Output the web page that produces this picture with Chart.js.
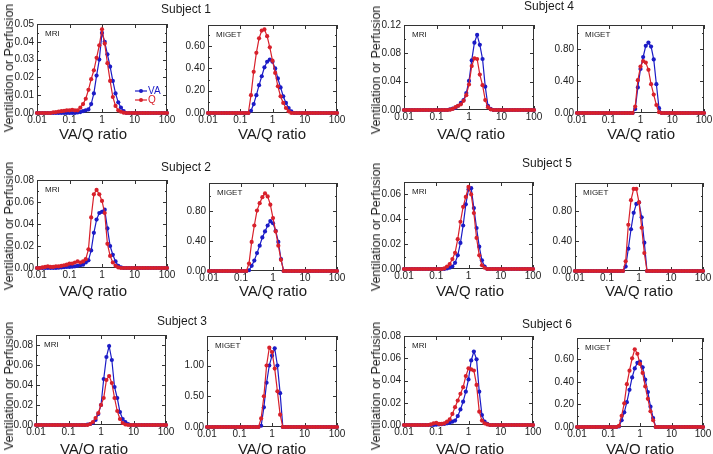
<!DOCTYPE html>
<html>
<head>
<meta charset="utf-8">
<script src="https://cdn.jsdelivr.net/npm/chart.js@4.4.1/dist/chart.umd.min.js"></script>
<style>
  body { margin: 0; background: #fff; width: 713px; height: 454px; position: relative; overflow: hidden;
         font-family: Arial, "Liberation Sans", sans-serif; }
  canvas { position: absolute; }
  .lbl { position: absolute; color: #1a1a1a; white-space: nowrap; transform: translate(-50%, -50%); }
  .subj { font-size: 12px; }
  .xt { font-size: 15px; }
  .yt { font-size: 12.5px; transform: translate(-50%, -50%) rotate(-90deg); }
</style>
</head>
<body>
<script>
// VA/Q compartments (log spaced, 12 per decade)
const vaq = [0.01, 0.01212, 0.01468, 0.01778, 0.02154, 0.0261, 0.03162, 0.03831, 0.04642, 0.05623, 0.06813, 0.08254,
  0.1, 0.1212, 0.1468, 0.1778, 0.2154, 0.261, 0.3162, 0.3831, 0.4642, 0.5623, 0.6813, 0.8254,
  1, 1.212, 1.468, 1.778, 2.154, 2.61, 3.162, 3.831, 4.642, 5.623, 6.813, 8.254,
  10, 12.12, 14.68, 17.78, 21.54, 26.1, 31.62, 38.31, 46.42, 56.23, 68.13, 82.54,
  100];
const xTicks = [0.01, 0.1, 1, 10, 100];

// Subject 1
const s1MriVA = [0,0,0,0,0,0,0,0,0,0,0,0,
  0,0,0,0.0003,0.0005,0.001,0.0015,0.002,0.005,0.011,0.021,0.030,
  0.045,0.040,0.033,0.026,0.018,0.011,0.006,0.003,0.001,0,0,0,
  0,0,0,0,0,0,0,0,0,0,0,0, 0];
const s1MriQ = [0,0,0,0,0,0,0.0003,0.0005,0.0008,0.001,0.0012,0.0015,
  0.0015,0.0018,0.0015,0.0015,0.003,0.005,0.008,0.013,0.019,0.024,0.031,0.038,
  0.047,0.039,0.028,0.018,0.009,0.004,0.0015,0.0007,0.0002,0,0,0,
  0,0,0,0,0,0,0,0,0,0,0,0, 0];
const s1MigetVA = [0,0,0,0,0,0,0,0,0,0,0,0,
  0,0,0,0,0.02,0.08,0.16,0.25,0.33,0.41,0.46,0.48,
  0.46,0.40,0.31,0.23,0.15,0.09,0.045,0.015,0,0,0,0,
  0,0,0,0,0,0,0,0,0,0,0,0, 0];
const s1MigetQ = [0,0,0,0,0,0,0,0,0,0,0,0,
  0,0,0,0,0.16,0.37,0.54,0.67,0.74,0.75,0.69,0.59,
  0.47,0.36,0.24,0.15,0.09,0.045,0.015,0,0,0,0,0,
  0,0,0,0,0,0,0,0,0,0,0,0, 0];

// Subject 2
const s2MriVA = [0,0,0,0,0,0,0,0,0.0003,0.0005,0.0007,0.001,
  0.001,0.0012,0.0015,0.002,0.0025,0.003,0.005,0.007,0.016,0.032,0.044,0.050,
  0.051,0.053,0.036,0.020,0.012,0.006,0.002,0.0005,0,0,0,0,
  0,0,0,0,0,0,0,0,0,0,0,0, 0];
const s2MriQ = [0,0,0.0005,0.001,0.0015,0.001,0.001,0.0015,0.0015,0.002,0.0025,0.003,
  0.004,0.004,0.005,0.006,0.005,0.006,0.008,0.017,0.046,0.067,0.071,0.067,
  0.061,0.050,0.022,0.011,0.005,0.002,0.0005,0,0,0,0,0,
  0,0,0,0,0,0,0,0,0,0,0,0, 0];
const s2MigetVA = [0,0,0,0,0,0,0,0,0,0,0,0,
  0,0,0,0.01,0.07,0.14,0.24,0.34,0.45,0.53,0.61,0.67,
  0.64,0.54,0.39,0.16,0,0,0,0,0,0,0,0,
  0,0,0,0,0,0,0,0,0,0,0,0, 0];
const s2MigetQ = [0,0,0,0,0,0,0,0,0,0,0,0,
  0,0,0,0.10,0.39,0.61,0.81,0.91,0.99,1.04,1.00,0.89,
  0.71,0.53,0.34,0.15,0,0,0,0,0,0,0,0,
  0,0,0,0,0,0,0,0,0,0,0,0, 0];

// Subject 3
const s3MriVA = [0,0,0,0,0,0,0,0,0,0,0,0,
  0,0,0,0,0,0,0,0.0005,0.001,0.002,0.005,0.011,
  0.020,0.046,0.068,0.079,0.065,0.038,0.027,0.013,0.006,0.003,0.001,0,
  0,0,0,0,0,0,0,0,0,0,0,0, 0];
const s3MriQ = [0,0,0,0,0,0,0,0,0,0,0,0,
  0,0,0,0,0,0,0,0,0.001,0.003,0.007,0.012,
  0.020,0.027,0.045,0.049,0.042,0.027,0.014,0.006,0.002,0.0005,0,0,
  0,0,0,0,0,0,0,0,0,0,0,0, 0];
const s3MigetVA = [0,0,0,0,0,0,0,0,0,0,0,0,
  0,0,0,0,0,0,0,0,0.02,0.32,0.72,1.00,
  1.16,1.28,1.00,0.55,0,0,0,0,0,0,0,0,
  0,0,0,0,0,0,0,0,0,0,0,0, 0];
const s3MigetQ = [0,0,0,0,0,0,0,0,0,0,0,0,
  0,0,0,0,0,0,0,0,0.14,0.50,1.00,1.29,
  1.22,0.95,0.58,0.20,0,0,0,0,0,0,0,0,
  0,0,0,0,0,0,0,0,0,0,0,0, 0];

// Subject 4
const s4MriVA = [0,0,0,0,0,0,0,0,0,0,0,0,
  0,0,0,0,0,0.001,0.002,0.003,0.006,0.010,0.014,0.024,
  0.041,0.070,0.095,0.106,0.092,0.072,0.033,0.006,0.0015,0,0,0,
  0,0,0,0,0,0,0,0,0,0,0,0, 0];
const s4MriQ = [0,0,0,0,0,0,0,0,0,0,0,0,
  0,0,0,0,0,0.0005,0.0015,0.004,0.006,0.008,0.013,0.021,
  0.036,0.062,0.073,0.072,0.050,0.035,0.014,0.004,0.001,0,0,0,
  0,0,0,0,0,0,0,0,0,0,0,0, 0];
const s4MigetVA = [0,0,0,0,0,0,0,0,0,0,0,0,
  0,0,0,0,0,0,0,0,0,0,0.05,0.32,
  0.55,0.70,0.84,0.88,0.83,0.67,0.36,0.06,0,0,0,0,
  0,0,0,0,0,0,0,0,0,0,0,0, 0];
const s4MigetQ = [0,0,0,0,0,0,0,0,0,0,0,0,
  0,0,0,0,0,0,0,0,0,0,0.08,0.41,
  0.58,0.65,0.63,0.54,0.36,0.23,0.10,0.01,0,0,0,0,
  0,0,0,0,0,0,0,0,0,0,0,0, 0];

// Subject 5
const s5MriVA = [0,0,0,0,0,0,0,0,0,0,0,0,
  0,0,0,0,0.0005,0.001,0.002,0.005,0.011,0.021,0.035,0.052,
  0.064,0.065,0.049,0.033,0.018,0.007,0.002,0,0,0,0,0,
  0,0,0,0,0,0,0,0,0,0,0,0, 0];
const s5MriQ = [0,0,0,0,0,0,0,0,0,0,0,0,
  0,0,0,0.0005,0.002,0.004,0.008,0.013,0.024,0.038,0.050,0.058,
  0.066,0.060,0.045,0.025,0.011,0.003,0.001,0,0,0,0,0,
  0,0,0,0,0,0,0,0,0,0,0,0, 0];
const s5MigetVA = [0,0,0,0,0,0,0,0,0,0,0,0,
  0,0,0,0,0,0,0,0.06,0.30,0.56,0.78,0.90,
  0.92,0.72,0.38,0,0,0,0,0,0,0,0,0,
  0,0,0,0,0,0,0,0,0,0,0,0, 0];
const s5MigetQ = [0,0,0,0,0,0,0,0,0,0,0,0,
  0,0,0,0,0,0,0,0.13,0.62,0.95,1.10,1.10,
  0.92,0.58,0.24,0,0,0,0,0,0,0,0,0,
  0,0,0,0,0,0,0,0,0,0,0,0, 0];

// Subject 6
const s6MriVA = [0,0,0,0,0,0,0,0,0,0,0,0,
  0.0003,0.0005,0.0007,0.001,0.0015,0.002,0.003,0.004,0.008,0.014,0.021,0.030,
  0.041,0.058,0.066,0.059,0.030,0.009,0.003,0.001,0,0,0,0,
  0,0,0,0,0,0,0,0,0,0,0,0, 0];
const s6MriQ = [0,0,0,0,0,0,0,0,0,0,0.0005,0.0015,
  0.002,0.001,0.001,0.0015,0.003,0.005,0.010,0.016,0.022,0.028,0.034,0.044,
  0.051,0.050,0.049,0.036,0.012,0.004,0.0015,0.0005,0,0,0,0,
  0,0,0,0,0,0,0,0,0,0,0,0, 0];
const s6MigetVA = [0,0,0,0,0,0,0,0,0,0,0,0,
  0,0,0,0,0.005,0.06,0.13,0.22,0.33,0.44,0.52,0.57,
  0.58,0.53,0.42,0.31,0.18,0.08,0,0,0,0,0,0,
  0,0,0,0,0,0,0,0,0,0,0,0, 0];
const s6MigetQ = [0,0,0,0,0,0,0,0,0,0,0,0,
  0,0,0,0,0.01,0.10,0.21,0.38,0.50,0.61,0.69,0.65,
  0.56,0.48,0.36,0.25,0.14,0.06,0,0,0,0,0,0,
  0,0,0,0,0,0,0,0,0,0,0,0, 0];

// y tick labels
const yTicksS1Mri = [0, 0.01, 0.02, 0.03, 0.04, 0.05];
const yTicksS4Mri = [0, 0.04, 0.08, 0.12];
const yTicksS5Mri = [0, 0.02, 0.04, 0.06];
const yTicksMri08 = [0, 0.02, 0.04, 0.06, 0.08];
const yTicksMiget06 = [0, 0.2, 0.4, 0.6];
const yTicksMiget08 = [0, 0.4, 0.8];
const yTicksS3Miget = [0, 0.5, 1.0];

const X_TITLE = 'VA/Q ratio';
const Y_TITLE = 'Ventilation or Perfusion';

const titles = [
  {text: 'Subject 1', x: 186, y: 9}, {text: 'Subject 4', x: 549, y: 6},
  {text: 'Subject 2', x: 186, y: 167}, {text: 'Subject 5', x: 547, y: 163},
  {text: 'Subject 3', x: 182, y: 321}, {text: 'Subject 6', x: 547, y: 324}
];

const BLUE = '#1b1bc6';
const RED = '#d8202b';
const FONT = 'Arial, "Liberation Sans", sans-serif';

// box = plot area [left, top, right, bottom] in page pixels; xt = x title centre; yt = y title centre
const panels = [
  {tag: 'MRI', va: s1MriVA, q: s1MriQ, yMax: 0.05, yTicks: yTicksS1Mri, box: [37, 23, 167, 113], xt: [93, 133], yt: [9, 68], legend: true},
  {tag: 'MIGET', va: s1MigetVA, q: s1MigetQ, yMax: 0.79, yTicks: yTicksMiget06, box: [208, 24, 337, 113], xt: [272, 133]},
  {tag: 'MRI', va: s4MriVA, q: s4MriQ, yMax: 0.12, yTicks: yTicksS4Mri, box: [404, 24, 534, 110], xt: [471, 133], yt: [376, 70]},
  {tag: 'MIGET', va: s4MigetVA, q: s4MigetQ, yMax: 1.1, yTicks: yTicksMiget08, box: [577, 24, 704, 113], xt: [641, 133]},
  {tag: 'MRI', va: s2MriVA, q: s2MriQ, yMax: 0.08, yTicks: yTicksMri08, box: [37, 179, 167, 268], xt: [93, 290], yt: [9, 226]},
  {tag: 'MIGET', va: s2MigetVA, q: s2MigetQ, yMax: 1.18, yTicks: yTicksMiget08, box: [209, 182, 337, 271], xt: [273, 290]},
  {tag: 'MRI', va: s5MriVA, q: s5MriQ, yMax: 0.07, yTicks: yTicksS5Mri, box: [404, 181, 533, 269], xt: [470, 290], yt: [376, 227]},
  {tag: 'MIGET', va: s5MigetVA, q: s5MigetQ, yMax: 1.18, yTicks: yTicksMiget08, box: [575, 182, 703, 271], xt: [639, 290]},
  {tag: 'MRI', va: s3MriVA, q: s3MriQ, yMax: 0.09, yTicks: yTicksMri08, box: [36, 334, 166, 425], xt: [94, 448], yt: [9, 386]},
  {tag: 'MIGET', va: s3MigetVA, q: s3MigetQ, yMax: 1.48, yTicks: yTicksS3Miget, box: [207, 335, 337, 427], xt: [272, 448]},
  {tag: 'MRI', va: s6MriVA, q: s6MriQ, yMax: 0.08, yTicks: yTicksMri08, box: [404, 335, 533, 425], xt: [470, 448], yt: [376, 386]},
  {tag: 'MIGET', va: s6MigetVA, q: s6MigetQ, yMax: 0.79, yTicks: yTicksMiget06, box: [577, 337, 703, 427], xt: [640, 448]}
];

// frame, inward ticks, panel tag and legend (Origin style)
const framePlugin = {
  id: 'frame',
  beforeDatasetsDraw(chart, args, opts) {
    const {ctx, chartArea: a, scales: {x, y}} = chart;
    ctx.save();
    ctx.strokeStyle = '#333';
    ctx.lineWidth = 1;
    ctx.strokeRect(a.left + 0.5, a.top + 0.5, a.width - 1, a.height - 1);
    ctx.beginPath();
    xTicks.forEach(v => {
      const px = Math.round(x.getPixelForValue(v)) + 0.5;
      ctx.moveTo(px, a.bottom); ctx.lineTo(px, a.bottom - 4);
      ctx.moveTo(px, a.top); ctx.lineTo(px, a.top + 4);
    });
    y.ticks.forEach(t => {
      const py = Math.round(y.getPixelForValue(t.value)) + 0.5;
      ctx.moveTo(a.left, py); ctx.lineTo(a.left + 4, py);
      ctx.moveTo(a.right, py); ctx.lineTo(a.right - 4, py);
    });
    const step = y.ticks[1].value - y.ticks[0].value;
    for (let v = step / 2; v < y.max; v += step) {
      const py = Math.round(y.getPixelForValue(v)) + 0.5;
      ctx.moveTo(a.left, py); ctx.lineTo(a.left + 2, py);
      ctx.moveTo(a.right, py); ctx.lineTo(a.right - 2, py);
    }
    ctx.stroke();
    ctx.fillStyle = '#222';
    ctx.font = '8px ' + FONT;
    ctx.textBaseline = 'middle';
    ctx.fillText(opts.tag, a.left + 8, a.top + 10);
    ctx.restore();
  },
  afterDatasetsDraw(chart, args, opts) {
    if (!opts.legend) return;
    const {ctx, chartArea: a} = chart;
    ctx.save();
    ctx.font = '10px ' + FONT;
    ctx.textBaseline = 'middle';
    [1, 0].forEach((di, row) => {
      const ds = chart.data.datasets[di];
      const ly = a.top + 67 + row * 9;
      ctx.strokeStyle = ds.borderColor;
      ctx.lineWidth = 1.2;
      ctx.beginPath(); ctx.moveTo(a.left + 98, ly); ctx.lineTo(a.left + 110, ly); ctx.stroke();
      ctx.fillStyle = ds.borderColor;
      ctx.beginPath(); ctx.arc(a.left + 104, ly, 2, 0, Math.PI * 2); ctx.fill();
      ctx.fillText(ds.label, a.left + 111, ly + 0.5);
    });
    ctx.restore();
  }
};

function series(label, values, color) {
  return {
    label: label,
    data: vaq.map((v, i) => ({x: v, y: values[i]})),
    borderColor: color,
    backgroundColor: color,
    borderWidth: 1.2,
    pointRadius: 2.1,
    pointBorderWidth: 0,
    pointBackgroundColor: color,
    tension: 0,
    clip: false
  };
}

function addLabel(cls, text, x, y) {
  const d = document.createElement('div');
  d.className = 'lbl ' + cls;
  d.textContent = text;
  d.style.left = x + 'px';
  d.style.top = y + 'px';
  document.body.appendChild(d);
}

panels.forEach(p => {
  const [L, T, R, B] = p.box;
  const yw = 36, xh = 22, padTop = 8, padRight = 12;
  const cv = document.createElement('canvas');
  const w = R - L + yw + padRight;
  const h = B - T + padTop + xh;
  cv.width = w; cv.height = h;
  cv.style.left = (L - yw) + 'px';
  cv.style.top = (T - padTop) + 'px';
  cv.style.width = w + 'px';
  cv.style.height = h + 'px';
  document.body.appendChild(cv);

  new Chart(cv.getContext('2d'), {
    type: 'line',
    data: {datasets: [series('Q', p.q, RED), series('VA', p.va, BLUE)]},
    options: {
      responsive: false,
      animation: false,
      events: [],
      layout: {padding: {top: padTop, right: padRight, left: 0, bottom: 0}},
      plugins: {
        legend: {display: false},
        tooltip: {enabled: false},
        frame: {tag: p.tag, legend: !!p.legend}
      },
      scales: {
        x: {
          type: 'logarithmic', min: 0.01, max: 100,
          afterBuildTicks: s => { s.ticks = xTicks.map(v => ({value: v})); },
          afterFit: s => { s.height = xh; },
          grid: {display: false, drawTicks: false},
          border: {display: false},
          ticks: {font: {family: FONT, size: 10}, color: '#222', padding: 1, autoSkip: false, maxRotation: 0,
                  callback: v => String(v)}
        },
        y: {
          min: 0, max: p.yMax,
          afterBuildTicks: s => { s.ticks = p.yTicks.map(v => ({value: v})); },
          afterFit: s => { s.width = yw; },
          grid: {display: false, drawTicks: false},
          border: {display: false},
          ticks: {font: {family: FONT, size: 10}, color: '#222', padding: 3, callback: v => v.toFixed(2)}
        }
      }
    },
    plugins: [framePlugin]
  });

  addLabel('xt', X_TITLE, p.xt[0], p.xt[1]);
  if (p.yt) addLabel('yt', Y_TITLE, p.yt[0], p.yt[1]);
});

titles.forEach(t => addLabel('subj', t.text, t.x, t.y));
</script>
</body>
</html>
